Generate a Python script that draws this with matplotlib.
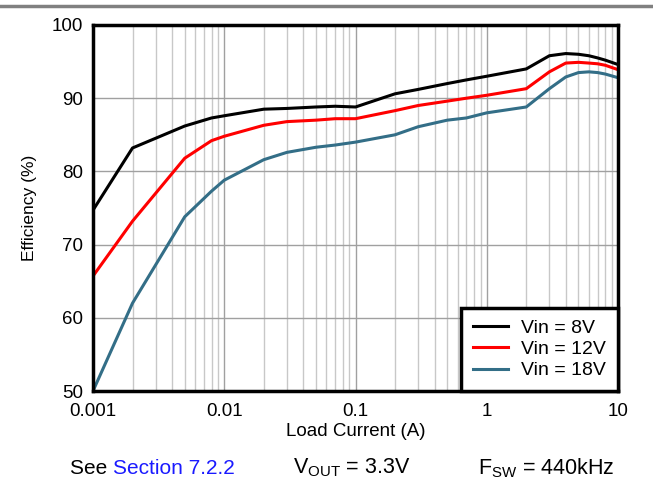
import matplotlib
matplotlib.use('Agg')
import matplotlib.pyplot as plt
from matplotlib.lines import Line2D

plt.rcParams['font.family'] = ['Liberation Sans', 'DejaVu Sans']

# load current (A)
current = [0.001, 0.002, 0.005, 0.008, 0.01, 0.02, 0.03, 0.05, 0.07, 0.1,
           0.2, 0.3, 0.5, 0.7, 1, 2, 3, 4, 5, 6, 7, 8, 10]

eff_8v = [74.7, 83.2, 86.2, 87.3, 87.6, 88.5, 88.6, 88.8, 88.9, 88.8,
          90.6, 91.2, 92.0, 92.5, 93.0, 94.0, 95.8, 96.1, 96.0, 95.8, 95.5, 95.2, 94.6]
eff_12v = [65.7, 73.2, 81.8, 84.2, 84.8, 86.3, 86.8, 87.0, 87.2, 87.2,
           88.3, 89.0, 89.6, 90.0, 90.4, 91.3, 93.6, 94.8, 94.9, 94.8, 94.7, 94.5, 93.9]
eff_18v = [50.0, 62.0, 73.8, 77.3, 78.8, 81.6, 82.6, 83.3, 83.6, 84.0,
           85.0, 86.1, 87.0, 87.3, 88.0, 88.8, 91.3, 92.9, 93.5, 93.6, 93.5, 93.3, 92.8]

labels = ['Vin = 8V', 'Vin = 12V', 'Vin = 18V']
colors = ['black', '#ff0000', '#336e87']

fig = plt.figure(figsize=(6.53, 4.87), dpi=100)
ax = fig.add_axes([93 / 653, 1 - 391 / 487, 525 / 653, 366 / 487])

for y, lab, c in zip([eff_8v, eff_12v, eff_18v], labels, colors):
    ax.plot(current, y, color=c, lw=2.2, label=lab, zorder=3)

ax.set_xscale('log')
ax.set_xlim(0.001, 10)
ax.set_ylim(50, 100)
ax.set_yticks([50, 60, 70, 80, 90, 100])
ax.set_xticks([0.001, 0.01, 0.1, 1, 10])
ax.set_xticklabels(['0.001', '0.01', '0.1', '1', '10'])
ax.grid(True, which='major', color='#a0a0a0', lw=1.0)
ax.grid(True, which='minor', axis='x', color='#c8c8c8', lw=1.0)
ax.tick_params(which='both', length=0, labelsize=13.5)
ax.tick_params(axis='x', pad=9)
ax.tick_params(axis='y', pad=7)
for s in ax.spines.values():
    s.set_linewidth(2.5)
    s.set_zorder(5)

ax.set_xlabel('Load Current (A)', fontsize=13.5, labelpad=2)
ax.set_ylabel('Efficiency (%)', fontsize=12.5, labelpad=11)

leg = ax.legend(loc='lower right', fontsize=14, fancybox=False, framealpha=1,
                edgecolor='black', borderaxespad=0, handlelength=1.8,
                labelspacing=0.18, borderpad=0.6, handletextpad=0.7)
leg.get_frame().set_linewidth(2.5)
leg.set_zorder(6)

# top rule
fig.add_artist(Line2D([0, 1], [1 - 6 / 487, 1 - 6 / 487], color='#808080', lw=2.5))

# footer
fy = 1 - 468 / 487
fig.text(70 / 653, fy, 'See ', fontsize=15, va='center', ha='left')
fig.text(113 / 653, fy, 'Section 7.2.2', fontsize=15, va='center', ha='left', color='#1a1aff')
fig.text(352 / 653, fy, r'V$_{\mathregular{OUT}}$ = 3.3V', fontsize=15.5, va='center', ha='center')
fig.text(546 / 653, fy, r'F$_{\mathregular{SW}}$ = 440kHz', fontsize=15.5, va='center', ha='center')

fig.savefig('out.png', dpi=100)
